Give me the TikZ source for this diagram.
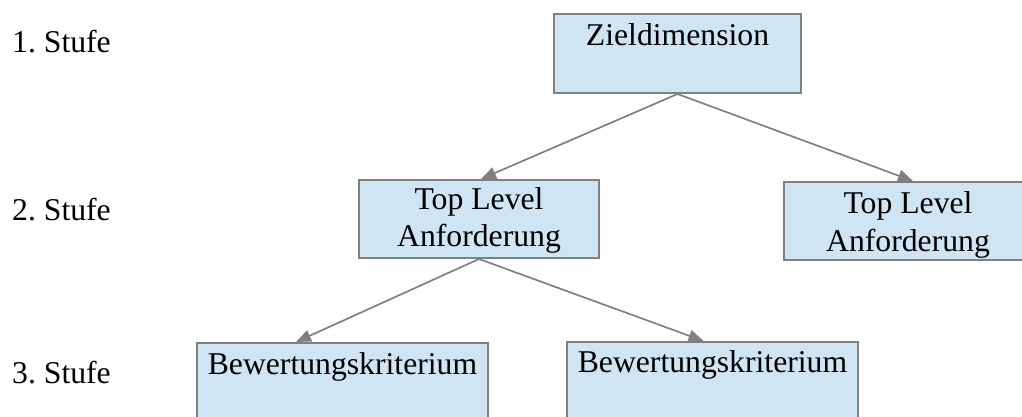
\documentclass[tikz,border=0pt]{standalone}
\usepackage{fontspec}
\setmainfont{Liberation Serif}
\usetikzlibrary{arrows.meta,calc}
\definecolor{boxfill}{HTML}{CFE5F3}
\definecolor{boxline}{HTML}{808080}
\tikzset{
  box/.style={draw=boxline, fill=boxfill, line width=2pt, rectangle, inner sep=0pt},
  txt/.style={inner sep=0pt, anchor=base, font=\fontsize{31.7}{37}\selectfont},
  lvl/.style={inner sep=0pt, anchor=base west, font=\fontsize{31.7}{37}\selectfont},
  conn/.style={draw=boxline, line width=1.7pt, -{Triangle[length=15pt,width=12pt]}}
}
\frenchspacing
\begin{document}
\begin{tikzpicture}[x=1pt,y=-1pt]
\useasboundingbox (0,0) rectangle (1022,417);
\clip (0,0) rectangle (1022,417);
% boxes
\node[box, minimum width=247pt, minimum height=79pt] (z) at (677.5,53.5) {};
\node[box, minimum width=240pt, minimum height=78pt] (t1) at (479,219) {};
\node[box, minimum width=248pt, minimum height=78pt] (t2) at (908,221) {};
\node[box, minimum width=291pt, minimum height=80pt] (b1) at (342.5,383) {};
\node[box, minimum width=291pt, minimum height=80pt] (b2) at (712.5,382) {};
% texts
\node[txt] (zt) at (677.5,46) {Zieldimension};
\node[txt] (t1a) at (479,209) {Top Level};
\node[txt] (t1b) at (479,246) {Anforderung};
\node[txt] (t2a) at (908,213) {Top Level};
\node[txt] (t2b) at (908,251) {Anforderung};
\node[txt] (b1t) at (342.5,374) {Bewertungskriterium};
\node[txt] (b2t) at (712.5,372) {Bewertungskriterium};
% level labels
\node[lvl] (s1) at (12,53) {1. Stufe};
\node[lvl] (s2) at (12,220) {2. Stufe};
\node[lvl] (s3) at (12,383) {3. Stufe};
% connectors
\draw[conn] (z.south) -- ($(t1.north west)+(123,0)$);
\draw[conn] (z.south) -- ($(t2.north west)+(130,0)$);
\draw[conn] (t1.south) -- ($(b1.north west)+(100,0)$);
\draw[conn] (t1.south) -- ($(b2.north)+(-9,0)$);
\end{tikzpicture}
\end{document}
